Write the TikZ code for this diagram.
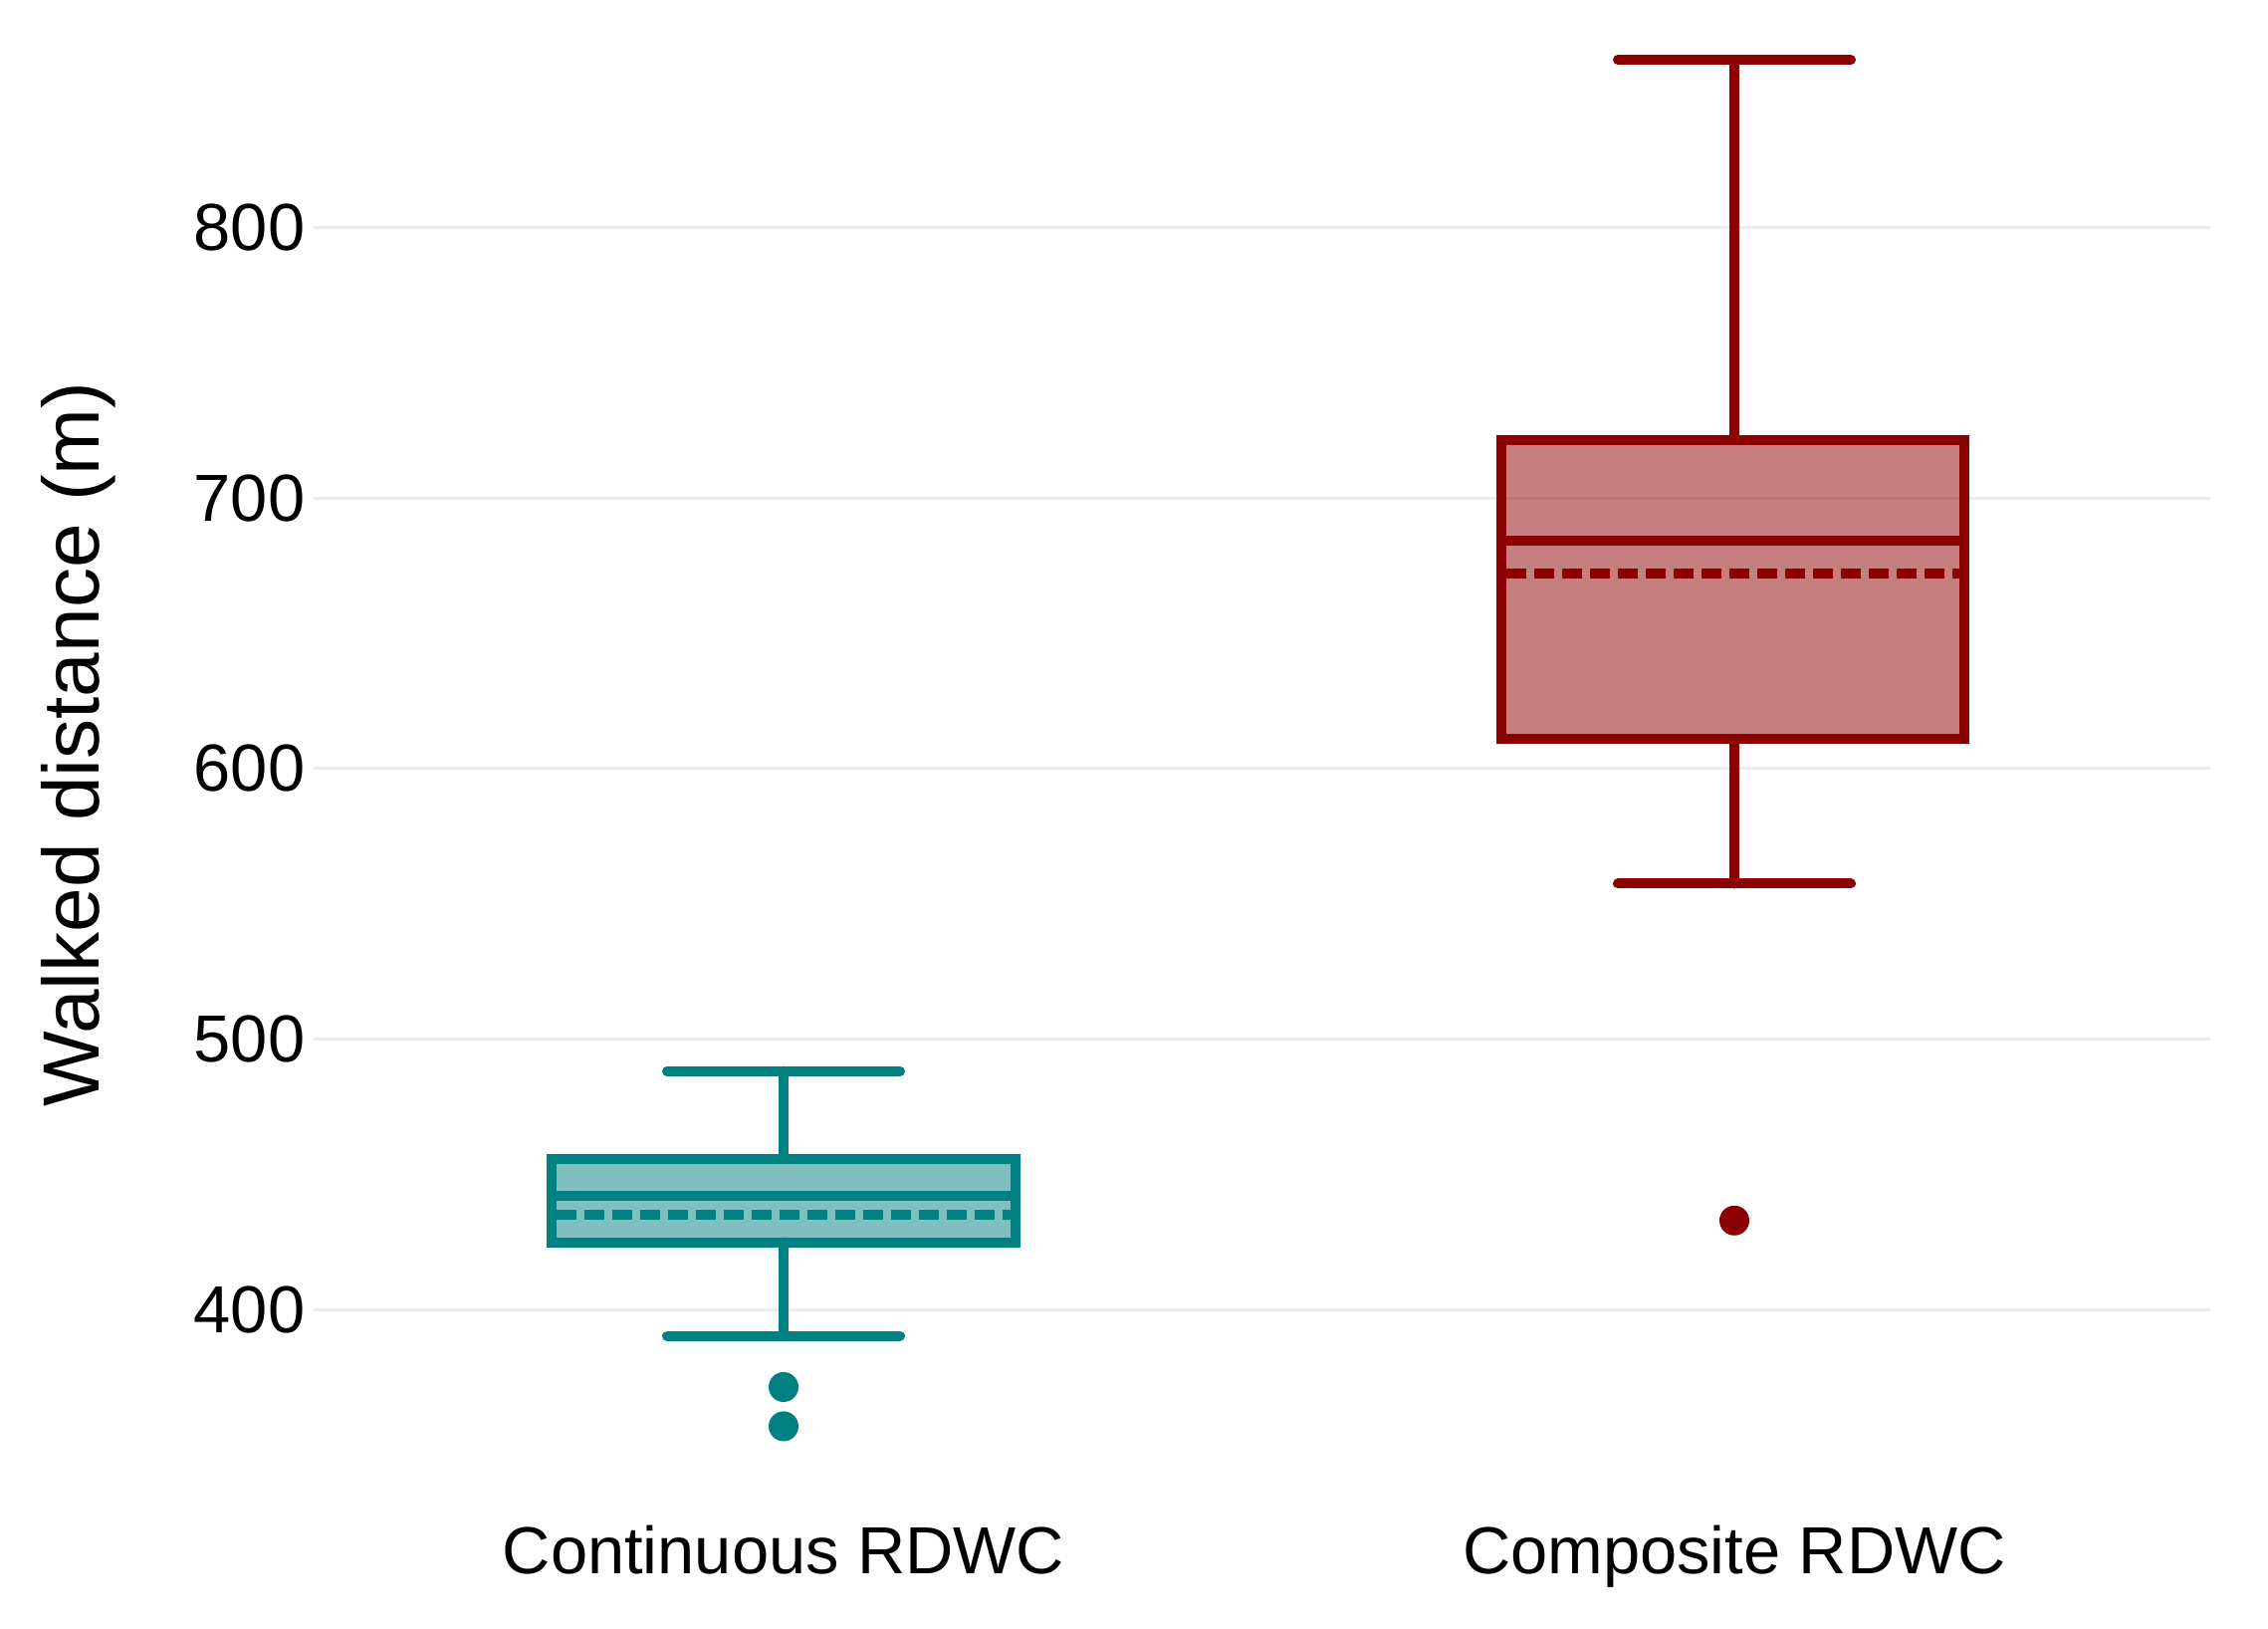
\documentclass[tikz,border=0pt]{standalone}
\usepackage{fontspec}
\setmainfont{Liberation Sans}
\usepackage{tikz}
\definecolor{tealline}{RGB}{0,128,128}
\definecolor{redline}{RGB}{139,0,0}
\definecolor{gridgray}{RGB}{236,236,236}

\begin{document}
\begin{tikzpicture}[x=0.01cm,y=0.027175cm,
  grid/.style={gridgray,line width=0.03cm},
  ticklabel/.style={anchor=east,inner sep=0pt,font=\fontsize{19pt}{23pt}\selectfont},
  catlabel/.style={anchor=base,inner sep=0pt,font=\fontsize{19pt}{23pt}\selectfont},
  boxline/.style={line width=0.1cm,fill opacity=0.5},
  whisk/.style={line width=0.1cm,line cap=round},
  meanline/.style={line width=0.1cm,dash pattern=on 0.2cm off 0.08cm},
  dot/.style={circle,inner sep=0pt,minimum size=0.3cm},
]
\useasboundingbox (0,282.6) rectangle (2278,883.9);
%% grid and axis
\foreach \v in {400,500,600,700,800}{
  \draw[grid] (315,\v) -- (2220,\v);
  \node[ticklabel] (tick\v) at (307,\v) {\v};
}
\node[rotate=90,anchor=base,inner sep=0pt,font=\fontsize{22.8pt}{27pt}\selectfont] (ytitle) at (100,609) {Walked distance (m)};
%% continuous
\draw[whisk,tealline] (787,455.9) -- (787,488.3);
\draw[whisk,tealline] (670,488.3) -- (904,488.3);
\draw[whisk,tealline] (787,425.1) -- (787,390.5);
\draw[whisk,tealline] (670,390.5) -- (904,390.5);
\draw[boxline,tealline,fill=tealline] (554,425.1) rectangle (1020,455.9);
\draw[line width=0.1cm,tealline] (554,442.3) -- (1020,442.3);
\draw[meanline,tealline] (559,435.2) -- (1015,435.2);
\node[dot,fill=tealline] (cont1) at (787,371.6) {};
\node[dot,fill=tealline] (cont2) at (787,357.1) {};
\node[catlabel] (contlab) at (787,302.5) {Continuous RDWC};
%% composite
\draw[whisk,redline] (1742,721.3) -- (1742,861.8);
\draw[whisk,redline] (1625,861.8) -- (1859,861.8);
\draw[whisk,redline] (1742,610.9) -- (1742,557.5);
\draw[whisk,redline] (1625,557.5) -- (1859,557.5);
\draw[boxline,redline,fill=redline] (1508,610.9) rectangle (1973,721.3);
\draw[line width=0.1cm,redline] (1508,684.1) -- (1973,684.1);
\draw[meanline,redline] (1513,671.9) -- (1968,671.9);
\node[dot,fill=redline] (comp1) at (1742,433.1) {};
\node[catlabel] (complab) at (1742,302.5) {Composite RDWC};
%
\end{tikzpicture}
\end{document}
